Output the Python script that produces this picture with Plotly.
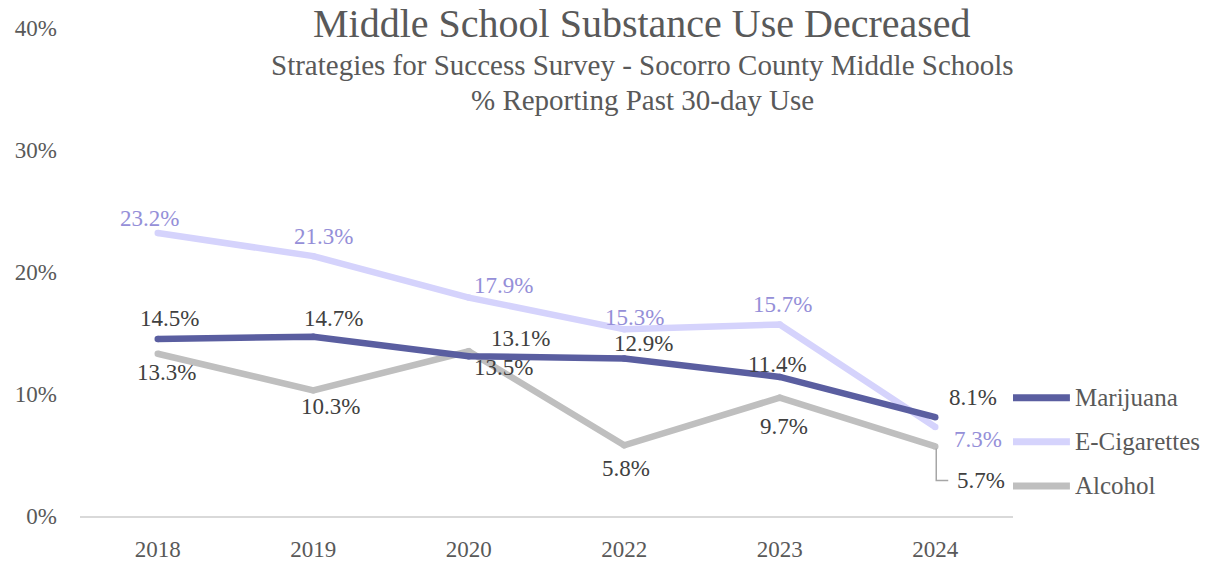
import plotly.graph_objects as go

# Survey years and % reporting past 30-day use
years = ["2018", "2019", "2020", "2022", "2023", "2024"]
marijuana = [14.5, 14.7, 13.1, 12.9, 11.4, 8.1]
e_cigarettes = [23.2, 21.3, 17.9, 15.3, 15.7, 7.3]
alcohol = [13.3, 10.3, 13.5, 5.8, 9.7, 5.7]

series_names = ["Marijuana", "E-Cigarettes", "Alcohol"]
y_ticks = [0, 10, 20, 30, 40]

FONT = "Palatino Linotype, Book Antiqua, Palatino, Liberation Serif, serif"
LINE_COLORS = {"Marijuana": "#5a5ea0", "E-Cigarettes": "#d5d3fc", "Alcohol": "#bfbfbf"}
LABEL_COLORS = {"Marijuana": "#404040", "E-Cigarettes": "#958fd8", "Alcohol": "#404040"}

# Pixel nudges (dx right, dy down) for each value label
label_offsets = {
    "Marijuana": [(12, -21), (20, -18), (52, -18), (19, -15), (-2, -12), (38, -20)],
    "E-Cigarettes": [(-8, -14), (10, -20), (35, -12), (10, -12), (3, -20), (43, 13)],
    "Alcohol": [(9, 19), (17, 16), (35, 16), (2, 23), (4, 29), (46, 34)],
}

data = {"Marijuana": marijuana, "E-Cigarettes": e_cigarettes, "Alcohol": alcohol}

fig = go.Figure()
# Draw back to front: alcohol, e-cigarettes, marijuana on top
for name in ["Alcohol", "E-Cigarettes", "Marijuana"]:
    fig.add_trace(go.Scatter(
        x=years, y=data[name], name=name, mode="lines+markers",
        line=dict(color=LINE_COLORS[name], width=6.5),
        marker=dict(color=LINE_COLORS[name], size=6.5),
        showlegend=False, hoverinfo="skip",
    ))

# Value labels, positioned by category index on the category axis
annotations = []
for name in series_names:
    for i, (v, (dx, dy)) in enumerate(zip(data[name], label_offsets[name])):
        annotations.append(dict(
            x=i, y=v, xref="x", yref="y", text=f"{v}%", showarrow=False,
            xshift=dx, yshift=-dy, xanchor="center", yanchor="middle",
            font=dict(family=FONT, size=23, color=LABEL_COLORS[name]),
        ))

# Titles
annotations += [
    dict(x=0.6024, y=1.0102, xref="paper", yref="paper", showarrow=False,
         text="Middle School Substance Use Decreased", xanchor="center", yanchor="middle",
         font=dict(family=FONT, size=40, color="#595959")),
    dict(x=0.6024, y=0.9235, xref="paper", yref="paper", showarrow=False,
         text="Strategies for Success Survey - Socorro County Middle Schools",
         xanchor="center", yanchor="middle",
         font=dict(family=FONT, size=29, color="#595959")),
    dict(x=0.6024, y=0.8525, xref="paper", yref="paper", showarrow=False,
         text="% Reporting Past 30-day Use", xanchor="center", yanchor="middle",
         font=dict(family=FONT, size=29, color="#595959")),
]

# Legend drawn beside the plot area
shapes = []
legend_y = [0.2424, 0.1523, 0.0615]
for name, ly in zip(series_names, legend_y):
    shapes.append(dict(type="line", xref="paper", yref="paper",
                       x0=1.0, x1=1.061, y0=ly, y1=ly,
                       line=dict(color=LINE_COLORS[name], width=7)))
    annotations.append(dict(x=1.0643, y=ly, xref="paper", yref="paper", showarrow=False,
                            text=name, xanchor="left", yanchor="middle",
                            font=dict(family=FONT, size=25, color="#595959")))

# Leader line for the last alcohol label (anchored at the last category index)
shapes.append(dict(type="path", xref="x", yref="y",
                   xsizemode="pixel", ysizemode="pixel",
                   xanchor=len(years) - 1, yanchor=alcohol[-1],
                   path="M1,-2 L1,-34 L13,-34",
                   line=dict(color="#a6a6a6", width=1.5)))

fig.update_layout(
    width=1212, height=564,
    margin=dict(l=80, r=199, t=28, b=48, autoexpand=False),
    paper_bgcolor="white", plot_bgcolor="white",
    annotations=annotations, shapes=shapes,
    font=dict(family=FONT, size=23, color="#595959"),
    xaxis=dict(type="category", categoryorder="array", categoryarray=years,
               range=[-0.5, len(years) - 0.5], autorange=False, automargin=False,
               showgrid=False, showline=True, linecolor="#d9d9d9", linewidth=1.5,
               ticks="", ticklabelstandoff=12, zeroline=False,
               tickfont=dict(family=FONT, size=23, color="#595959")),
    yaxis=dict(range=[0, 40], tickvals=y_ticks, ticktext=[f"{t}%" for t in y_ticks],
               automargin=False,
               showgrid=False, showline=False, zeroline=False, ticks="",
               ticklabelstandoff=22,
               tickfont=dict(family=FONT, size=23, color="#595959")),
)

fig.write_html("out.html")
